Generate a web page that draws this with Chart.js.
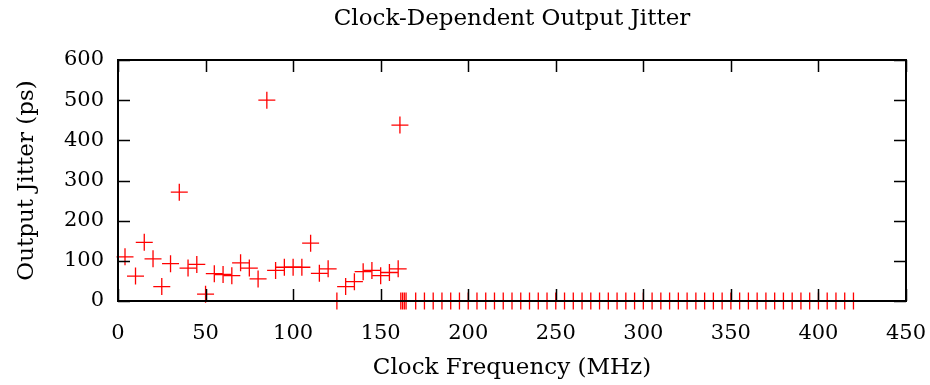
<!DOCTYPE html>
<html>
<head>
<meta charset="utf-8">
<script src="https://cdn.jsdelivr.net/npm/chart.js@4/dist/chart.umd.min.js"></script>
<style>
  html, body { margin: 0; padding: 0; background: #fff; }
  #wrap { width: 930px; height: 385px; }
</style>
</head>
<body>
<div id="wrap"><canvas id="jitterChart" width="930" height="385"></canvas></div>
<script>
// Measured clock frequencies (MHz) and output jitter (ps)
const clockMHz = [4, 10, 15, 20, 25, 30, 35, 40, 45, 50, 55, 60, 65, 70, 75, 80, 85, 90, 95, 100,
    105, 110, 115, 120, 125, 130, 135, 140, 145, 150, 155, 160, 161,
    161.5, 162.5, 163.5, 164.5, 170, 175, 180, 185, 190, 195, 200, 205, 210, 215, 220, 225, 230,
    235, 240, 245, 250, 255, 260, 265, 270, 275, 280, 285, 290, 295, 300, 305, 310, 315, 320,
    325, 330, 335, 340, 345, 350, 355, 360, 365, 370, 375, 380, 385, 390, 395, 400, 405, 410,
    415, 420];
const jitterPs = [110, 62, 146, 105, 36, 93, 271, 82, 91, 17, 68, 66, 63, 95, 82, 55, 500, 76, 84, 84,
    84, 144, 69, 80, 0, 36, 48, 73, 76, 63, 71, 80, 438,
    0, 0, 0, 0, 0, 0, 0, 0, 0, 0, 0, 0, 0, 0, 0, 0, 0,
    0, 0, 0, 0, 0, 0, 0, 0, 0, 0, 0, 0, 0, 0, 0, 0, 0, 0,
    0, 0, 0, 0, 0, 0, 0, 0, 0, 0, 0, 0, 0, 0, 0, 0, 0, 0,
    0, 0];

const xTicks = [0, 50, 100, 150, 200, 250, 300, 350, 400, 450];
const yTicks = [0, 100, 200, 300, 400, 500, 600];
const chartTitle = 'Clock-Dependent Output Jitter';

const FONT = "'DejaVu Serif', 'Liberation Serif', serif";

// box around the plot + gnuplot style inward ticks (mirrored), title centred over the plot
const frame = {
    id: 'frame',
    afterDatasetsDraw(chart) {
        const { ctx, chartArea: a, scales } = chart;
        const tl = 12;
        ctx.save();
        ctx.strokeStyle = '#000';
        ctx.lineWidth = 1.5;
        ctx.beginPath();
        xTicks.forEach(v => {
            const x = Math.round(scales.x.getPixelForValue(v)) + 0.5;
            ctx.moveTo(x, a.bottom); ctx.lineTo(x, a.bottom - tl);
            ctx.moveTo(x, a.top); ctx.lineTo(x, a.top + tl);
        });
        yTicks.forEach(v => {
            const y = Math.round(scales.y.getPixelForValue(v)) + 0.5;
            ctx.moveTo(a.left, y); ctx.lineTo(a.left + tl, y);
            ctx.moveTo(a.right, y); ctx.lineTo(a.right - tl, y);
        });
        ctx.stroke();
        ctx.lineWidth = 2;
        ctx.strokeRect(a.left, a.top, a.right - a.left, a.bottom - a.top);

        ctx.fillStyle = '#000';
        ctx.font = '23px ' + FONT;
        ctx.textAlign = 'center';
        ctx.textBaseline = 'middle';
        ctx.fillText(chartTitle, (a.left + a.right) / 2, 19);
        ctx.restore();
    }
};

const ctx = document.getElementById('jitterChart').getContext('2d');
new Chart(ctx, {
    type: 'scatter',
    data: {
        datasets: [{
            label: 'Jitter',
            data: clockMHz.map((f, i) => ({ x: f, y: jitterPs[i] })),
            pointStyle: 'cross',
            pointRadius: 8.5,
            pointHoverRadius: 8.5,
            borderColor: 'rgb(255, 0, 0)',
            backgroundColor: 'rgb(255, 0, 0)',
            borderWidth: 1.3,
            clip: false
        }]
    },
    options: {
        responsive: false,
        animation: false,
        events: [],
        layout: { padding: { left: 0, right: 24, top: 60, bottom: 0 } },
        plugins: {
            legend: { display: false },
            tooltip: { enabled: false },
            title: { display: false }
        },
        scales: {
            x: {
                type: 'linear',
                min: 0,
                max: 450,
                afterBuildTicks: s => { s.ticks = xTicks.map(v => ({ value: v })); },
                afterFit: s => { s.height = 84; s.paddingLeft = 0; s.paddingRight = 0; },
                grid: { display: false, drawTicks: false },
                border: { display: false },
                ticks: { color: '#000', padding: 20, maxRotation: 0, font: { family: FONT, size: 21 } },
                title: {
                    display: true,
                    text: 'Clock Frequency (MHz)',
                    color: '#000',
                    font: { family: FONT, size: 23 },
                    padding: { top: 0, bottom: 3 }
                }
            },
            y: {
                type: 'linear',
                min: 0,
                max: 600,
                afterBuildTicks: s => { s.ticks = yTicks.map(v => ({ value: v })); },
                afterFit: s => { s.width = 118; s.paddingTop = 0; s.paddingBottom = 0; },
                grid: { display: false, drawTicks: false },
                border: { display: false },
                ticks: { color: '#000', padding: 14, font: { family: FONT, size: 21 } },
                title: {
                    display: true,
                    text: 'Output Jitter (ps)',
                    color: '#000',
                    font: { family: FONT, size: 23 },
                    padding: { top: 13, bottom: 0 }
                }
            }
        }
    },
    plugins: [frame]
});
</script>
</body>
</html>
